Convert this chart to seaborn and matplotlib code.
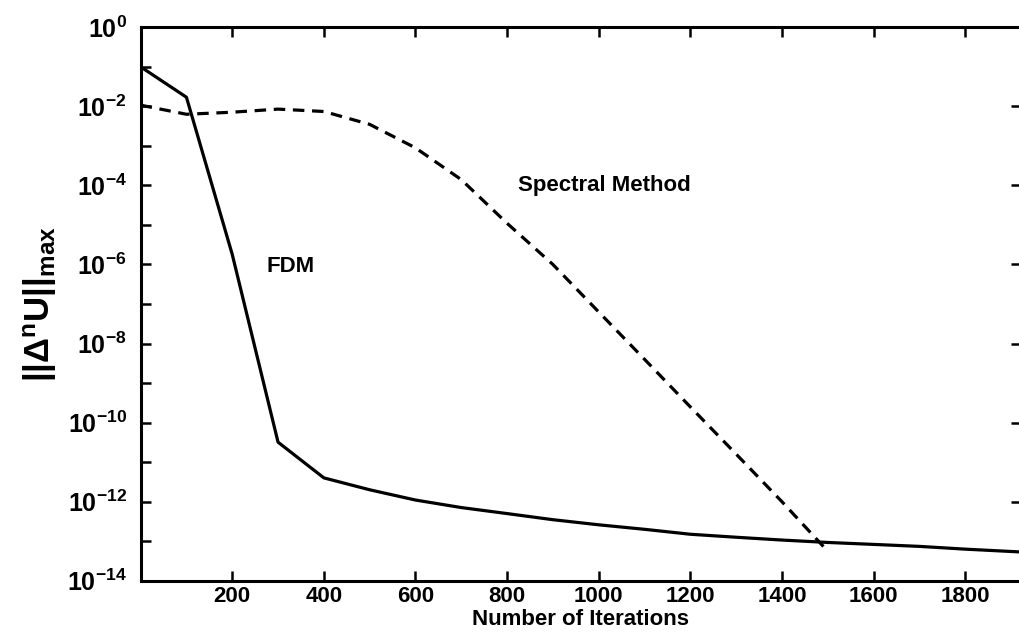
import math
import matplotlib
matplotlib.use("Agg")
import matplotlib.pyplot as plt
import matplotlib.ticker as mticker
import seaborn as sns
import pandas as pd

# values (log scale)
fdm_iter = [0, 100, 200, 300, 400, 500, 600, 700, 800, 900, 1000,
            1100, 1200, 1300, 1400, 1500, 1600, 1700, 1800, 1900, 2000]
fdm_err = [1.0e-1, 1.7e-2, 1.8e-6, 3.2e-11, 4.0e-12, 2.0e-12, 1.1e-12,
           7.1e-13, 5.0e-13, 3.5e-13, 2.6e-13, 2.0e-13, 1.5e-13, 1.26e-13,
           1.07e-13, 9.3e-14, 8.3e-14, 7.4e-14, 6.3e-14, 5.5e-14, 4.8e-14]

spec_iter = [0, 100, 200, 300, 400, 500, 600, 700, 800, 900, 1000,
             1100, 1200, 1300, 1400, 1500]
spec_err = [1.07e-2, 6.3e-3, 7.1e-3, 8.5e-3, 7.4e-3, 3.5e-3, 8.9e-4,
            1.4e-4, 1.1e-5, 1.0e-6, 6.3e-8, 4.0e-9, 2.5e-10, 1.6e-11,
            1.0e-12, 5.6e-14]

x_ticks = [200, 400, 600, 800, 1000, 1200, 1400, 1600, 1800]
y_major = [1e0, 1e-2, 1e-4, 1e-6, 1e-8, 1e-10, 1e-12, 1e-14]
y_minor = [1e-1, 1e-3, 1e-5, 1e-7, 1e-9, 1e-11, 1e-13]

sns.set_style("ticks", {'axes.edgecolor': 'black', 'text.color': 'black',
                        'xtick.color': 'black', 'ytick.color': 'black',
                        'axes.labelcolor': 'black'})
plt.rcParams['font.family'] = ['Liberation Sans', 'DejaVu Sans']
plt.rcParams['font.weight'] = 'bold'
plt.rcParams['mathtext.fontset'] = 'custom'
plt.rcParams['mathtext.rm'] = 'Liberation Sans:bold'
plt.rcParams['mathtext.it'] = 'Liberation Sans:bold'
plt.rcParams['mathtext.bf'] = 'Liberation Sans:bold'

fdm = pd.DataFrame({'iter': fdm_iter, 'err': fdm_err})
spec = pd.DataFrame({'iter': spec_iter, 'err': spec_err})

fig = plt.figure(figsize=(10.19, 6.34), dpi=100)
ax = fig.add_axes([0.138, 0.084, 0.864, 0.873])

sns.lineplot(data=fdm, x='iter', y='err', color='black', lw=2.3, ax=ax)
sns.lineplot(data=spec, x='iter', y='err', color='black', lw=2.3, ax=ax)
ax.lines[1].set_dashes((3.6, 2.4))

ax.set_yscale('log')
ax.set_xlim(0, 1922)
ax.set_ylim(1e-14, 1e0)

ax.set_xticks(x_ticks)
ax.set_xticklabels([str(t) for t in x_ticks])
ax.yaxis.set_major_locator(mticker.FixedLocator(y_major))
ax.yaxis.set_minor_locator(mticker.FixedLocator(y_minor))
ax.yaxis.set_major_formatter(mticker.FuncFormatter(
    lambda v, p: r'$10^{%d}$' % round(math.log10(v))))
ax.yaxis.set_minor_formatter(mticker.NullFormatter())
ax.xaxis.set_minor_locator(mticker.NullLocator())

ax.tick_params(which='both', direction='in', length=7, width=1.8,
               top=True, right=True, colors='black')
ax.tick_params(which='minor', right=False)
ax.tick_params(axis='x', labelsize=16, pad=4)
ax.tick_params(axis='y', labelsize=18, pad=10)

for s in ax.spines.values():
    s.set_linewidth(2.2)
    s.set_color('black')

ax.text(327, 10**-6.06, 'FDM', fontsize=16, fontweight='bold',
        ha='center', va='center')
ax.text(823, 1e-4, 'Spectral Method', fontsize=16, fontweight='bold',
        ha='left', va='center')

ax.set_xlabel('Number of Iterations', fontsize=16, fontweight='bold', labelpad=1)
ax.set_ylabel(r'$||\Delta^{n}U||_{max}$', fontsize=25, labelpad=6)

plt.savefig('out.png', dpi=100)
